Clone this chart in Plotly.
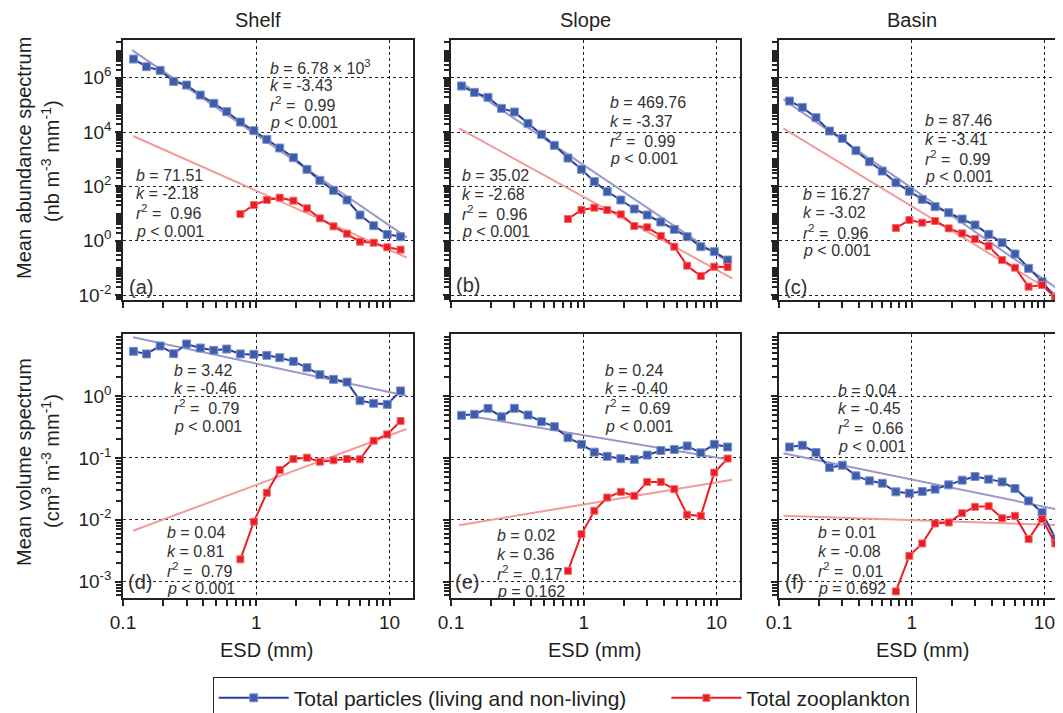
import plotly.graph_objects as go

# page body has an 8px margin, so the figure is drawn 8px in from the top-left
OFF = 8
W, H = 1063 - OFF, 713 - OFF

# ---------------- data ----------------
ESD = [0.12, 0.15, 0.19, 0.24, 0.30, 0.38, 0.48, 0.60, 0.76, 0.96, 1.2,
       1.5, 1.9, 2.4, 3.0, 3.8, 4.8, 6.0, 7.6, 9.6, 12.1]
ESD_ZOO = ESD[8:]

# abundance spectra (nb m-3 mm-1)
shelf_part_ab = [4.86e6, 2.54e6, 1.86e6, 7.33e5, 5.37e5, 2.30e5, 1.14e5, 5.60e4, 2.33e4, 1.12e4,
                 5.37e3, 2.58e3, 1.14e3, 423, 166, 71.3, 31.4, 8.81, 3.56, 1.71, 1.40]
shelf_zoo_ab = [9.59, 20.6, 31.4, 38.3, 29.6, 15.5, 6.64, 3.37, 1.81, 0.918, 0.843, 0.569, 0.467]
slope_part_ab = [4.93e5, 2.88e5, 1.89e5, 7.43e4, 5.45e4, 2.08e4, 8.20e3, 3.23e3, 1.10e3, 423,
                 149, 63.7, 31.4, 14.7, 8.81, 4.86, 2.61, 1.40, 0.601, 0.394, 0.194]
slope_zoo_ab = [6.28, 13.5, 16.4, 13.5, 9.31, 3.47, 3.10, 1.49, 0.601, 0.120, 0.0501, 0.110, 0.107]
basin_part_ab = [1.38e5, 8.09e4, 3.37e4, 1.09e4, 5.85e3, 2.06e3, 809, 366, 136, 65.5,
                 33.2, 17.9, 10.7, 6.28, 3.78, 1.71, 0.843, 0.323, 0.0959, 0.0310, 0.00798]
basin_zoo_ab = [2.92, 5.77, 4.60, 5.30, 2.84, 1.86, 1.15, 0.637, 0.194, 0.101, 0.0203, 0.0233, 0.00798]

# volume spectra (cm3 m-3 mm-1)
shelf_part_vol = [5.27, 4.78, 6.43, 4.83, 6.92, 5.96, 5.47, 5.74, 4.78, 4.71, 4.54,
                  4.16, 3.63, 2.87, 2.21, 1.86, 1.68, 0.841, 0.762, 0.733, 1.21]
shelf_zoo_vol = [0.00230, 0.00933, 0.0274, 0.0638, 0.0959, 0.101, 0.0869, 0.0914, 0.0959,
                 0.0948, 0.190, 0.240, 0.394]
slope_part_vol = [0.488, 0.506, 0.632, 0.463, 0.632, 0.493, 0.385, 0.320, 0.212, 0.166, 0.124,
                  0.106, 0.0971, 0.0946, 0.111, 0.132, 0.137, 0.156, 0.121, 0.166, 0.150]
slope_zoo_vol = [0.00150, 0.00587, 0.0140, 0.0229, 0.0283, 0.0244, 0.0410, 0.0410, 0.0313,
                 0.0121, 0.0116, 0.0579, 0.0975]
basin_part_vol = [0.150, 0.160, 0.122, 0.0698, 0.0762, 0.0513, 0.0426, 0.0390, 0.0283, 0.0269,
                  0.0286, 0.0313, 0.0367, 0.0437, 0.0500, 0.0453, 0.0410, 0.0320, 0.0202, 0.0131, 0.00500]
basin_zoo_vol = [0.000698, 0.00262, 0.00415, 0.00873, 0.00906, 0.0128, 0.0162, 0.0166, 0.0106,
                 0.0116, 0.00488, 0.0103, 0.00415]

# fitted power-law lines (end points)
fit_part_x = [[0.117, 13.5], [0.116, 12.6], [0.108, 12.4], [0.119, 13.4], [0.146, 11.9], [0.108, 12.2]]
fit_part_y = [[1.04e7, 1.33], [7.13e5, 0.147], [1.59e5, 0.0176], [8.87, 1.01], [0.465, 0.095], [0.119, 0.0149]]
fit_zoo_x = [[0.119, 13.5], [0.115, 13.1], [0.108, 12.0], [0.119, 13.4], [0.115, 13.1], [0.108, 12.2]]
fit_zoo_y = [[7.13e3, 0.237], [1.36e4, 0.041], [1.36e4, 0.0115], [0.00667, 0.293], [0.0082, 0.0442], [0.0116, 0.0082]]

part_series = [shelf_part_ab, slope_part_ab, basin_part_ab, shelf_part_vol, slope_part_vol, basin_part_vol]
zoo_series = [shelf_zoo_ab, slope_zoo_ab, basin_zoo_ab, shelf_zoo_vol, slope_zoo_vol, basin_zoo_vol]

stats_part = [("6.78 × 10<sup>3</sup>", "-3.43", "0.99", "&lt; 0.001"),
              ("469.76", "-3.37", "0.99", "&lt; 0.001"),
              ("87.46", "-3.41", "0.99", "&lt; 0.001"),
              ("3.42", "-0.46", "0.79", "&lt; 0.001"),
              ("0.24", "-0.40", "0.69", "&lt; 0.001"),
              ("0.04", "-0.45", "0.66", "&lt; 0.001")]
stats_zoo = [("71.51", "-2.18", "0.96", "&lt; 0.001"),
             ("35.02", "-2.68", "0.96", "&lt; 0.001"),
             ("16.27", "-3.02", "0.96", "&lt; 0.001"),
             ("0.04", "0.81", "0.79", "&lt; 0.001"),
             ("0.02", "0.36", "0.17", "= 0.162"),
             ("0.01", "-0.08", "0.01", "= 0.692")]

col_titles = ["Shelf", "Slope", "Basin"]
panel_letters = ["(a)", "(b)", "(c)", "(d)", "(e)", "(f)"]
top_ticks = [1e6, 1e4, 1e2, 1e0, 1e-2]
top_ticktext = ["10<sup>6</sup>", "10<sup>4</sup>", "10<sup>2</sup>", "10<sup>0</sup>", "10<sup>-2</sup>"]
bot_ticks = [1e1, 1e0, 1e-1, 1e-2, 1e-3]
bot_ticktext = ["10<sup>1</sup>", "10<sup>0</sup>", "10<sup>-1</sup>", "10<sup>-2</sup>", "10<sup>-3</sup>"]
x_ticks = [0.1, 1, 10]
x_ticktext = ["0.1", "1", "10"]

# ---------------- style ----------------
FONT = "Liberation Sans, Arial, sans-serif"
TXT = "#231F20"
BLUE = "#2B3F96"
BLUE_M = "#3D5CAB"
RED = "#EC1C24"
LAV = "#9A97CB"
PINK = "#F39A9A"
NB = "\u00a0"

def px(x):
    return (x - OFF) / W

def py(y):
    return 1 - (y - OFF) / H

x_dom = [[px(123), px(413)], [px(451), px(740)], [px(779), 1.0]]
x_rng = [[-1, 1.176], [-1, 1.176], [-1, 1.14]]
y_dom = [[py(300), py(40)], [py(598.3), py(334.3)]]
y_rng = [[-2.184, 7.388], [-3.268, 0.997]]

minor_y = [k * 10.0 ** d for d in range(-4, 9) for k in range(1, 10)]
minor_x = [k * 10.0 ** d for d in range(-1, 2) for k in range(2, 10)]

fig = go.Figure()

for i in range(6):
    r, c = divmod(i, 3)
    ax = "" if i == 0 else str(i + 1)
    xa, ya = "x" + ax, "y" + ax
    fig.add_trace(go.Scatter(x=fit_part_x[i], y=fit_part_y[i], mode="lines",
                             line=dict(color=LAV, width=2), showlegend=False,
                             xaxis=xa, yaxis=ya, hoverinfo="skip"))
    fig.add_trace(go.Scatter(x=fit_zoo_x[i], y=fit_zoo_y[i], mode="lines",
                             line=dict(color=PINK, width=2), showlegend=False,
                             xaxis=xa, yaxis=ya, hoverinfo="skip"))
    fig.add_trace(go.Scatter(x=ESD, y=part_series[i], mode="lines+markers",
                             name="Total particles (living and non-living)" + NB * 6,
                             line=dict(color=BLUE, width=2),
                             marker=dict(symbol="square", size=8, color=BLUE_M,
                                         line=dict(color="#7F93CC", width=1)),
                             showlegend=(i == 0), legendrank=1,
                             xaxis=xa, yaxis=ya))
    fig.add_trace(go.Scatter(x=ESD_ZOO, y=zoo_series[i], mode="lines+markers",
                             name="Total zooplankton",
                             line=dict(color=RED, width=2),
                             marker=dict(symbol="square", size=7, color=RED,
                                         line=dict(color="#F26B6B", width=1)),
                             showlegend=(i == 0), legendrank=2,
                             xaxis=xa, yaxis=ya))

    common_line = dict(showline=True, linecolor="#222", linewidth=1.5, mirror=True,
                       showgrid=True, gridcolor="#222", griddash="dot", gridwidth=1,
                       zeroline=False, ticks="outside", tickcolor="#222", ticklen=6,
                       tickwidth=1.5, automargin=False,
                       tickfont=dict(family=FONT, size=19, color=TXT))
    fig.layout["xaxis" + ax] = dict(
        domain=x_dom[c], type="log", range=x_rng[c], anchor=ya,
        tickmode="array", tickvals=x_ticks, ticktext=x_ticktext,
        showticklabels=(r == 1),
        minor=dict(tickmode="array", tickvals=minor_x, ticks="outside", ticklen=6,
                   tickcolor="#222", showgrid=False),
        **common_line)
    fig.layout["yaxis" + ax] = dict(
        domain=y_dom[r], type="log", range=y_rng[r], anchor=xa,
        tickmode="array", tickvals=top_ticks if r == 0 else bot_ticks,
        ticktext=top_ticktext if r == 0 else bot_ticktext,
        showticklabels=(c == 0),
        minor=dict(tickmode="array", tickvals=minor_y, ticks="outside", ticklen=5,
                   tickcolor="#222", showgrid=False),
        **common_line)

annotations = []

def add_text(text, x, y, size, xanchor="center", yanchor="middle", angle=0, color=TXT):
    annotations.append(dict(text=text, x=px(x), y=py(y), xref="paper", yref="paper",
                            xanchor=xanchor, yanchor=yanchor, textangle=angle,
                            showarrow=False, font=dict(family=FONT, size=size, color=color)))

for t, xc in zip(col_titles, [258, 585, 912]):
    add_text(t, xc, 20, 20)
for xc in [266, 594, 922]:
    add_text("ESD (mm)", xc, 650, 20)

add_text("Mean abundance spectrum", 24, 158, 20, angle=-90)
add_text("(nb m<sup>-3</sup> mm<sup>-1</sup>)", 50, 161, 20, angle=-90)
add_text("Mean volume spectrum", 24, 462, 20, angle=-90)
add_text("(cm<sup>3</sup> m<sup>-3</sup> mm<sup>-1</sup>)", 50, 461, 20, angle=-90)

# stats text blocks: (left x, centre y of first line)
part_pos = [(268, 66.7), (608, 102.3), (923, 120.7), (172, 370), (603, 370), (836, 390)]
zoo_pos = [(134, 175), (460, 175.7), (801, 194.3), (165, 532.7), (495, 535.7), (816, 532.7)]
letter_pos = [(127, 287), (454, 285), (782, 287), (126, 582), (453, 582), (783, 582)]
LINE_STEP = 18.7

def stat_lines(s):
    b, k, r2, p = s
    return [f"<i>b</i> = {b}", f"<i>k</i> = {k}", f"<i>r</i><sup>2</sup> = {NB}{r2}", f"<i>p</i> {p}"]

for i in range(6):
    for s, (x0, y0) in ((stats_part[i], part_pos[i]), (stats_zoo[i], zoo_pos[i])):
        for j, line in enumerate(stat_lines(s)):
            add_text(line, x0, y0 + j * LINE_STEP, 16, xanchor="left", color="#333")
    lx, ly = letter_pos[i]
    add_text(panel_letters[i], lx, ly, 20, xanchor="left", color="#333")

fig.update_layout(
    width=W, height=H,
    margin=dict(l=0, r=0, t=0, b=0, autoexpand=False),
    paper_bgcolor="white", plot_bgcolor="white",
    font=dict(family=FONT, color=TXT),
    annotations=annotations,
    showlegend=True,
    legend=dict(orientation="h", x=px(212.7), y=py(676.7), xanchor="left", yanchor="top",
                bordercolor="#222", borderwidth=1, bgcolor="white",
                font=dict(family=FONT, size=21, color=TXT),
                itemwidth=70, traceorder="normal", tracegroupgap=0),
)

fig.write_html("out.html")
